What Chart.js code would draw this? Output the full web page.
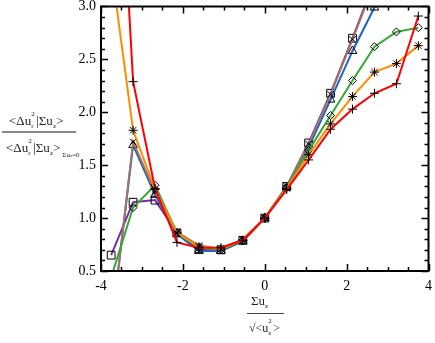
<!DOCTYPE html>
<html><head><meta charset="utf-8">
<script src="https://cdn.jsdelivr.net/npm/chart.js@4.4.0/dist/chart.umd.min.js"></script>
<style>
html,body{margin:0;padding:0;background:#fff;}
#wrap{position:relative;width:435px;height:343px;overflow:hidden;background:#fff;}
#c{position:absolute;left:0;top:0;}
.t{position:absolute;font-family:"Liberation Serif","DejaVu Serif",serif;color:#222;white-space:nowrap;line-height:1;font-size:13px;}
.st{display:inline-block;position:relative;width:5px;height:13px;vertical-align:baseline;}
.st .a{position:absolute;left:0;top:-1px;font-size:7px;line-height:7px;}
.st .b{position:absolute;left:0;top:11px;font-size:7px;line-height:7px;}
.sb{font-size:7px;position:relative;top:3px;}
.bar{position:absolute;}
</style></head>
<body>
<div id="wrap">
<canvas id="c" width="435" height="343"></canvas>
<div class="t" id="yNum" style="left:9px;top:112px;">&lt;Δu<span class="st"><span class="a">2</span><span class="b">r</span></span>|Σu<span class="sb">z</span>&gt;</div>
<div class="bar" style="left:2px;top:131px;width:74px;height:2px;background:#888;"></div>
<div class="t" id="yDen" style="left:6px;top:139px;">&lt;Δu<span class="st"><span class="a">2</span><span class="b">r</span></span>|Σu<span class="sb">z</span>&gt;<span class="sb" style="top:5px;margin-left:2px;">Σu<span style="font-size:5px">z</span>=0</span></div>
<div class="t" id="xNum" style="left:251px;top:294px;">Σu<span class="sb">z</span></div>
<div class="bar" style="left:247px;top:313px;width:37px;height:1px;background:#444;"></div>
<div class="t" id="xDen" style="left:249px;top:319px;font-size:12px;">√&lt;u<span class="st"><span class="a">2</span><span class="b">z</span></span>&gt;</div>
</div>
<script>
// ---- data ----
const xValues = [-3.752, -3.216, -2.680, -2.144, -1.608, -1.072, -0.536, 0, 0.536, 1.072, 1.608, 2.144, 2.680, 3.216, 3.752];
const redPlus      = [6.00, 2.29, 1.28, 0.77, 0.72, 0.72, 0.79, 1.00, 1.27, 1.55, 1.84, 2.03, 2.18, 2.27, 2.91];
const orangeStar   = [3.38, 1.83, 1.27, 0.86, 0.73, 0.71, 0.79, 1.00, 1.28, 1.60, 1.89, 2.15, 2.38, 2.46, 2.63];
const greenDiamond = [0.44, 1.10, 1.31, 0.86, 0.72, 0.70, 0.79, 1.00, 1.29, 1.64, 1.97, 2.30, 2.62, 2.76, 2.80];
const blueTriangle = [-0.05, 1.69, 1.22, 0.85, 0.69, 0.69, 0.78, 1.00, 1.29, 1.67, 2.12, 2.58, 2.99, 3.40, 3.80];
const brownCross   = [-0.07, 1.72, 1.25, 0.87, 0.74, 0.71, 0.80, 1.00, 1.30, 1.70, 2.17, 2.69, 3.22, 3.70, 4.20];
const purpleSquare = [0.65, 1.15, 1.17, 0.86, 0.71, 0.70, 0.79, 1.00, 1.30, 1.71, 2.18, 2.70, 3.24, 3.75, 4.25];
const xTicks = [-4, -2, 0, 2, 4];
const yTicks = [0.5, 1.0, 1.5, 2.0, 2.5, 3.0];

function pts(ys){ return xValues.map((x,i)=>({x:x, y:ys[i]})); }
function ds(data, color, style, r){
  return {data: pts(data), borderColor: color, borderWidth: 2, tension: 0,
    pointStyle: style, pointRadius: r, pointHoverRadius: r,
    pointBorderColor: '#000', pointBackgroundColor: 'rgba(0,0,0,0)', pointBorderWidth: 1};
}

const frameTicks = {
  id: 'frameTicks',
  afterDatasetsDraw(chart){
    const {ctx, chartArea: a, scales: {x, y}} = chart;
    ctx.save();
    ctx.strokeStyle = '#000';
    ctx.lineWidth = 1.5;
    ctx.beginPath();
    for (let v = x.min; v <= x.max + 1e-9; v += 0.5){
      const px = Math.round(x.getPixelForValue(v)) + 0.5;
      const L = xTicks.some(t => Math.abs(t - v) < 1e-9) ? 7 : 4;
      ctx.moveTo(px, a.bottom); ctx.lineTo(px, a.bottom - L);
      ctx.moveTo(px, a.top); ctx.lineTo(px, a.top + L);
    }
    for (let v = y.min; v <= y.max + 1e-9; v += 0.1){
      const py = Math.round(y.getPixelForValue(v)) + 0.5;
      const L = yTicks.some(t => Math.abs(t - v) < 1e-6) ? 7 : 4;
      ctx.moveTo(a.left, py); ctx.lineTo(a.left + L, py);
      ctx.moveTo(a.right, py); ctx.lineTo(a.right - L, py);
    }
    ctx.stroke();
    ctx.lineWidth = 2;
    ctx.strokeRect(a.left, a.top, a.right - a.left, a.bottom - a.top);
    ctx.restore();
  }
};

new Chart(document.getElementById('c'), {
  type: 'line',
  data: { datasets: [
    ds(redPlus, '#ff0000', 'cross', 4.5),
    ds(orangeStar, '#ff8c00', 'star', 4.5),
    ds(greenDiamond, '#33a833', 'rectRot', 4),
    ds(brownCross, '#a07565', 'crossRot', 4.5),
    ds(blueTriangle, '#1c64c8', 'triangle', 5),
    ds(purpleSquare, '#7b2ea0', 'rect', 5.5)
  ]},
  options: {
    responsive: false, animation: false,
    layout: { padding: { top: 5, right: 5, left: 0, bottom: 0 } },
    plugins: { legend: { display: false }, tooltip: { enabled: false } },
    scales: {
      x: { type: 'linear', min: -4, max: 4,
        grid: { display: false, drawTicks: false }, border: { display: false },
        afterBuildTicks: s => { s.ticks = xTicks.map(v => ({value: v})); },
        ticks: { padding: 7, color: '#000', font: { family: 'Liberation Serif', size: 14 },
          callback: v => String(v), maxRotation: 0 },
        afterFit: s => { s.height = 72; s.paddingLeft = 0; s.paddingRight = 0; } },
      y: { type: 'linear', min: 0.5, max: 3.0,
        grid: { display: false, drawTicks: false }, border: { display: false },
        afterBuildTicks: s => { s.ticks = yTicks.map(v => ({value: v})); },
        ticks: { padding: 5, color: '#000', font: { family: 'Liberation Serif', size: 14 },
          callback: v => Number(v).toFixed(1) },
        afterFit: s => { s.width = 101; s.paddingTop = 0; s.paddingBottom = 0; } }
    }
  },
  plugins: [frameTicks]
});
</script>
</body></html>
